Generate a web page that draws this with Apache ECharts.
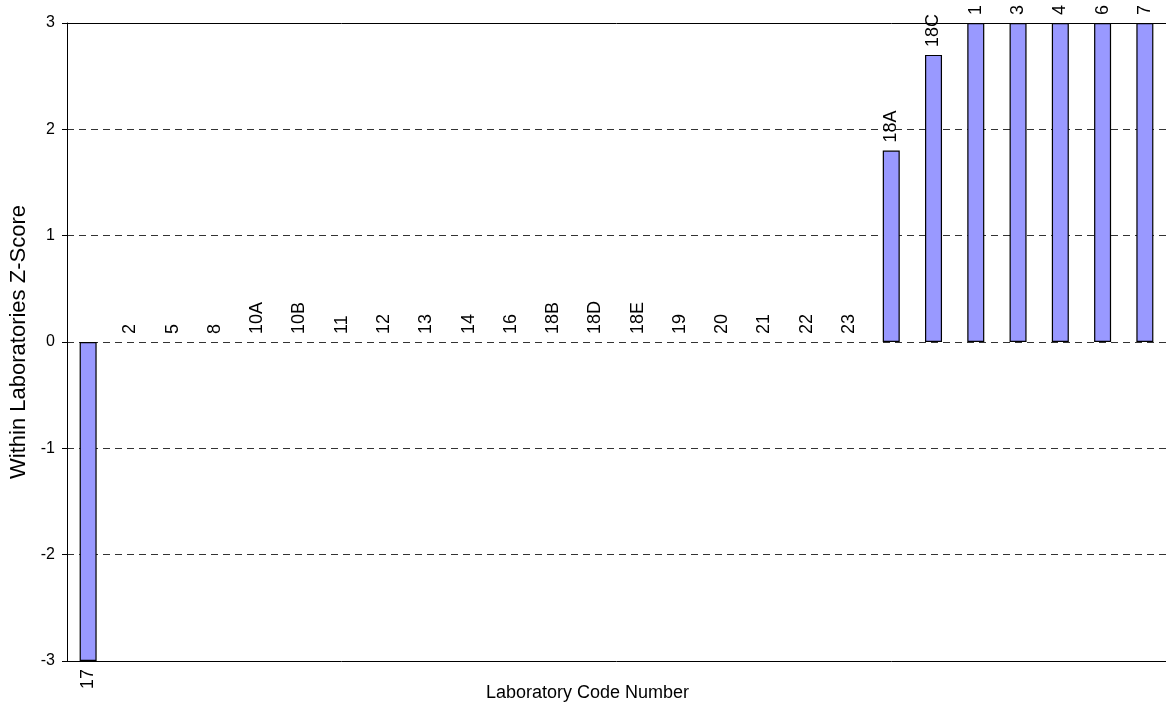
<!DOCTYPE html>
<html>
<head>
<meta charset="utf-8">
<script src="https://cdn.jsdelivr.net/npm/echarts@6/dist/echarts.min.js"></script>
<style>html,body{margin:0;padding:0;background:#fff;}#c{width:1166px;height:711px;}</style>
</head>
<body>
<div id="c"></div>
<script>
const categories = ['17','2','5','8','10A','10B','11','12','13','14','16','18B','18D','18E','19','20','21','22','23','18A','18C','1','3','4','6','7'];
const zScores = [-3,0,0,0,0,0,0,0,0,0,0,0,0,0,0,0,0,0,0,1.8,2.7,3,3,3,3,3];
const yTicks = [-3,-2,-1,0,1,2,3];

const chart = echarts.init(document.getElementById('c'));
const font = 'Arial, "Liberation Sans", sans-serif';
const data = zScores.map(v => ({
  value: v,
  itemStyle: v === 0 ? {borderWidth: 0, color: 'transparent'} : {},
  label: v < 0 ? {position: 'bottom', align: 'right'} : {position: 'top', align: 'left'}
}));
chart.setOption({
  animation: false,
  grid: {left: 67, right: 0, top: 23, bottom: 50, containLabel: false, outerBoundsMode: 'none'},
  xAxis: [{
    type: 'category', data: categories, position: 'bottom',
    axisLine: {onZero: false, lineStyle: {color: '#000', width: 1}},
    axisTick: {show: false}, axisLabel: {show: false},
    name: 'Laboratory Code Number', nameLocation: 'middle', nameGap: 23,
    nameTextStyle: {fontFamily: font, fontSize: 18, color: '#000', padding: [0, 58, 0, 0]}
  }, {
    type: 'category', data: categories, position: 'top',
    axisLine: {onZero: false, lineStyle: {color: '#000', width: 1}},
    axisTick: {show: false}, axisLabel: {show: false}
  }],
  yAxis: {
    type: 'value', min: yTicks[0], max: yTicks[yTicks.length - 1], interval: 1,
    axisLine: {show: true, lineStyle: {color: '#000', width: 1}},
    axisTick: {show: true, length: 5, lineStyle: {color: '#000'}},
    axisLabel: {fontFamily: font, fontSize: 16, color: '#000', margin: 12},
    splitLine: {show: true, lineStyle: {color: '#333', type: [7, 5], width: 1}},
    name: 'Within Laboratories Z-Score', nameLocation: 'middle', nameGap: 37,
    nameTextStyle: {fontFamily: font, fontSize: 22, color: '#000'}
  },
  series: [{
    type: 'bar', data: data, barWidth: 17,
    itemStyle: {color: '#9999FF', borderColor: '#000', borderWidth: 1.2},
    label: {
      show: true, formatter: '{b}', rotate: 90, distance: 8,
      verticalAlign: 'middle',
      fontFamily: font, fontSize: 18, color: '#000'
    }
  }]
});
</script>
</body>
</html>
